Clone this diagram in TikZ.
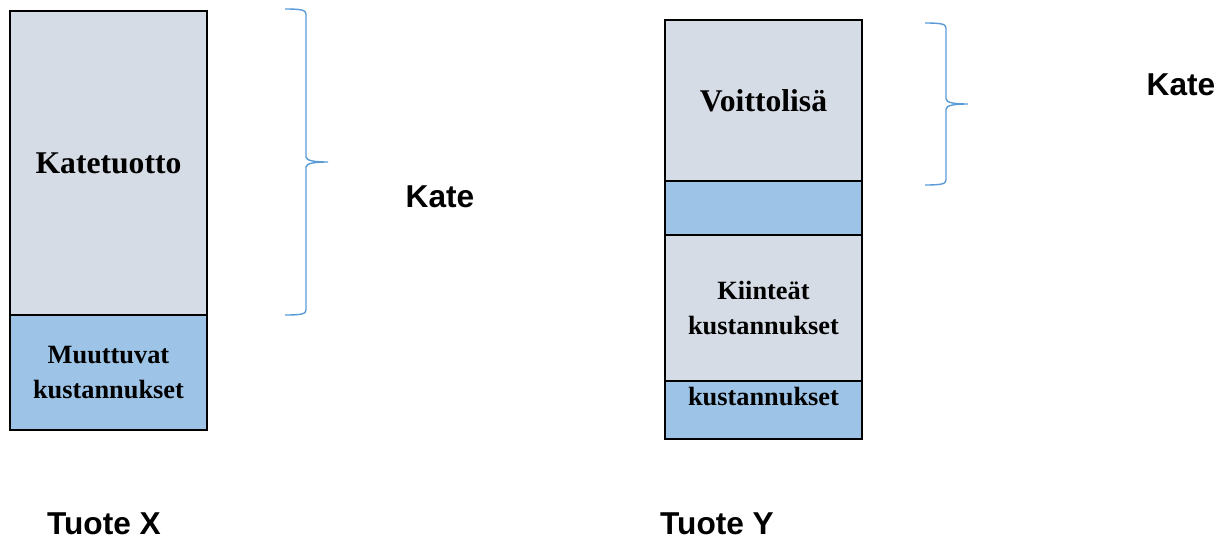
\documentclass[tikz,border=0pt]{standalone}
\usepackage{fontspec}
\setmainfont{Liberation Serif}
\setsansfont{Liberation Sans}
\usetikzlibrary{positioning}
\definecolor{katefill}{HTML}{D6DCE5}
\definecolor{kustfill}{HTML}{9DC3E6}
\definecolor{braceline}{HTML}{5B9BD5}
\tikzset{
  seg/.style    = {draw, line width=1.2pt, minimum width=3.94cm, inner sep=0pt, outer sep=0pt,
                   align=center, font=\bfseries\fontsize{15}{19.8}\selectfont},
  kate/.style   = {seg, fill=katefill},
  kust/.style   = {seg, fill=kustfill},
  big/.style    = {font=\bfseries\fontsize{18}{22}\selectfont},
  lbl/.style    = {font=\sffamily\bfseries\fontsize{18}{22}\selectfont, inner sep=0pt},
  brace/.style  = {draw=braceline, line width=0.8pt},
}
% brace: x of the ends, top y, bottom y (pixel units)
\newcommand{\katebrace}[3]{%
  \draw[brace] (#1,#2) .. controls +(16,0) and +(0,-4) .. ({#1+21},{#2+5})
    -- ({#1+21},{(#2+#3)/2-5}) .. controls +(0,4) and +(-12,0) .. ({#1+43},{(#2+#3)/2})
    .. controls +(-12,0) and +(0,-4) .. ({#1+21},{(#2+#3)/2+5})
    -- ({#1+21},{#3-5}) .. controls +(0,4) and +(16,0) .. (#1,#3);}

\begin{document}
\begin{tikzpicture}[x=0.2mm, y=-0.2mm]
\useasboundingbox (0,0) rectangle (1230,539);

% Tuote X
\node[kate, big, minimum height=6.08cm, anchor=north] (xkate) at (108.5,11) {Katetuotto};
\node[kust, minimum height=2.3cm, below=0pt of xkate] (xmuut) {Muuttuvat\\kustannukset};
\katebrace{285}{9}{315}
\node[lbl] (xlbl) at (440,197) {Kate};
\node[lbl] (xname) at (104,524) {Tuote X};

% Tuote Y
\node[kate, big, minimum height=3.22cm, anchor=north] (yvoit) at (763.5,20) {Voittolisä};
\node[kust, minimum height=1.08cm, below=0pt of yvoit] (yvali) {};
\node[kate, minimum height=2.92cm, below=0pt of yvali] (ykiin) {Kiinteät\\kustannukset};
\node[kust, minimum height=1.16cm, below=0pt of ykiin] (ymuut) {};
\node[font=\bfseries\fontsize{15}{19.8}\selectfont, anchor=north, inner sep=0pt]
  (ymuutlbl) at ([yshift=-0.12cm]ymuut.north) {kustannukset};
\katebrace{925}{23}{185}
\node[lbl] (ylbl) at (1181,85) {Kate};
\node[lbl] (yname) at (717,524) {Tuote Y};

\end{tikzpicture}
\end{document}
